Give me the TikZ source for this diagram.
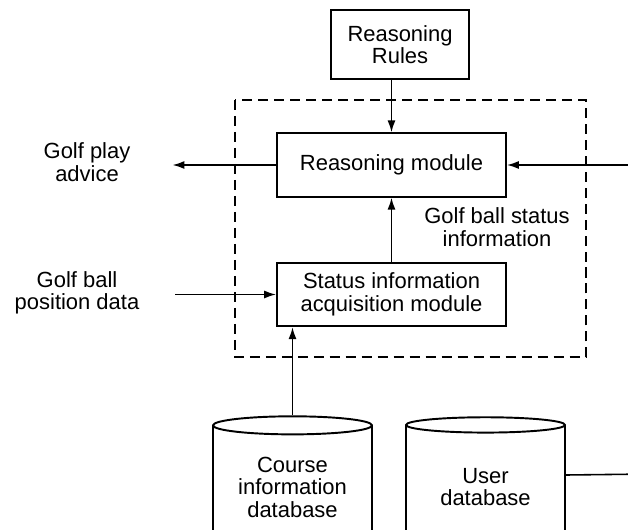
\documentclass[tikz,border=0pt]{standalone}
\usepackage{fontspec}
\setmainfont{Liberation Sans}
\usetikzlibrary{positioning,shapes.geometric,arrows.meta}

\tikzset{
  module/.style={draw, line width=1.1pt, minimum width=4.58cm, minimum height=1.27cm},
  dbase/.style={draw, line width=1.1pt, cylinder, shape border rotate=90, aspect=0.15,
    minimum width=3.18cm, minimum height=2.56cm},
  flow/.style={line width=0.9pt, -{Latex[length=6.8pt,width=4.6pt]}},
}

\begin{document}
\begin{tikzpicture}[x=0.02cm, y=-0.02cm,
    every node/.style={font=\fontsize{12.5}{12.8}\selectfont, align=center}]
  \useasboundingbox (0,0) rectangle (628,530);
  \clip (0,0) rectangle (628,530);

  % system boundary
  \draw[line width=1.2pt, dash pattern=on 5.7pt off 3.4pt] (235,100) rectangle (586,357);

  \node[module, minimum width=2.76cm, minimum height=1.38cm] (rules) at (400,44.5) {Reasoning\\Rules};
  \node[module] (reason) at (391.5,165) {Reasoning module};
  \node[module] (status) at (391.5,294.5) {Status information\\acquisition module};

  \node[dbase] (course) at (292.5,487) {Course\\information\\database};
  \node[dbase] (user) at (485.5,487) {User\\database};

  \node (advice) at (87,162) {Golf play\\advice};
  \node (position) at (77,293) {Golf ball\\position data};
  \node (ballinfo) at (497,227) {Golf ball status\\information};

  \coordinate (feed) at (650,474);

  \draw[flow] (reason.north |- rules.south) -- (reason.north);
  \draw[flow] (reason.west) -- (advice.east |- reason.west) [shorten >=0.72cm];
  \draw[flow, shorten <=0.6cm] (position.east |- status.west) -- (status.west);
  \draw[flow] (status.north) -- (reason.south);
  \draw[flow] (course.north) -- (course.north |- status.south);
  \draw[flow] ([yshift=0.24cm]user.east) -- (feed) |- (reason.east);
\end{tikzpicture}
\end{document}
